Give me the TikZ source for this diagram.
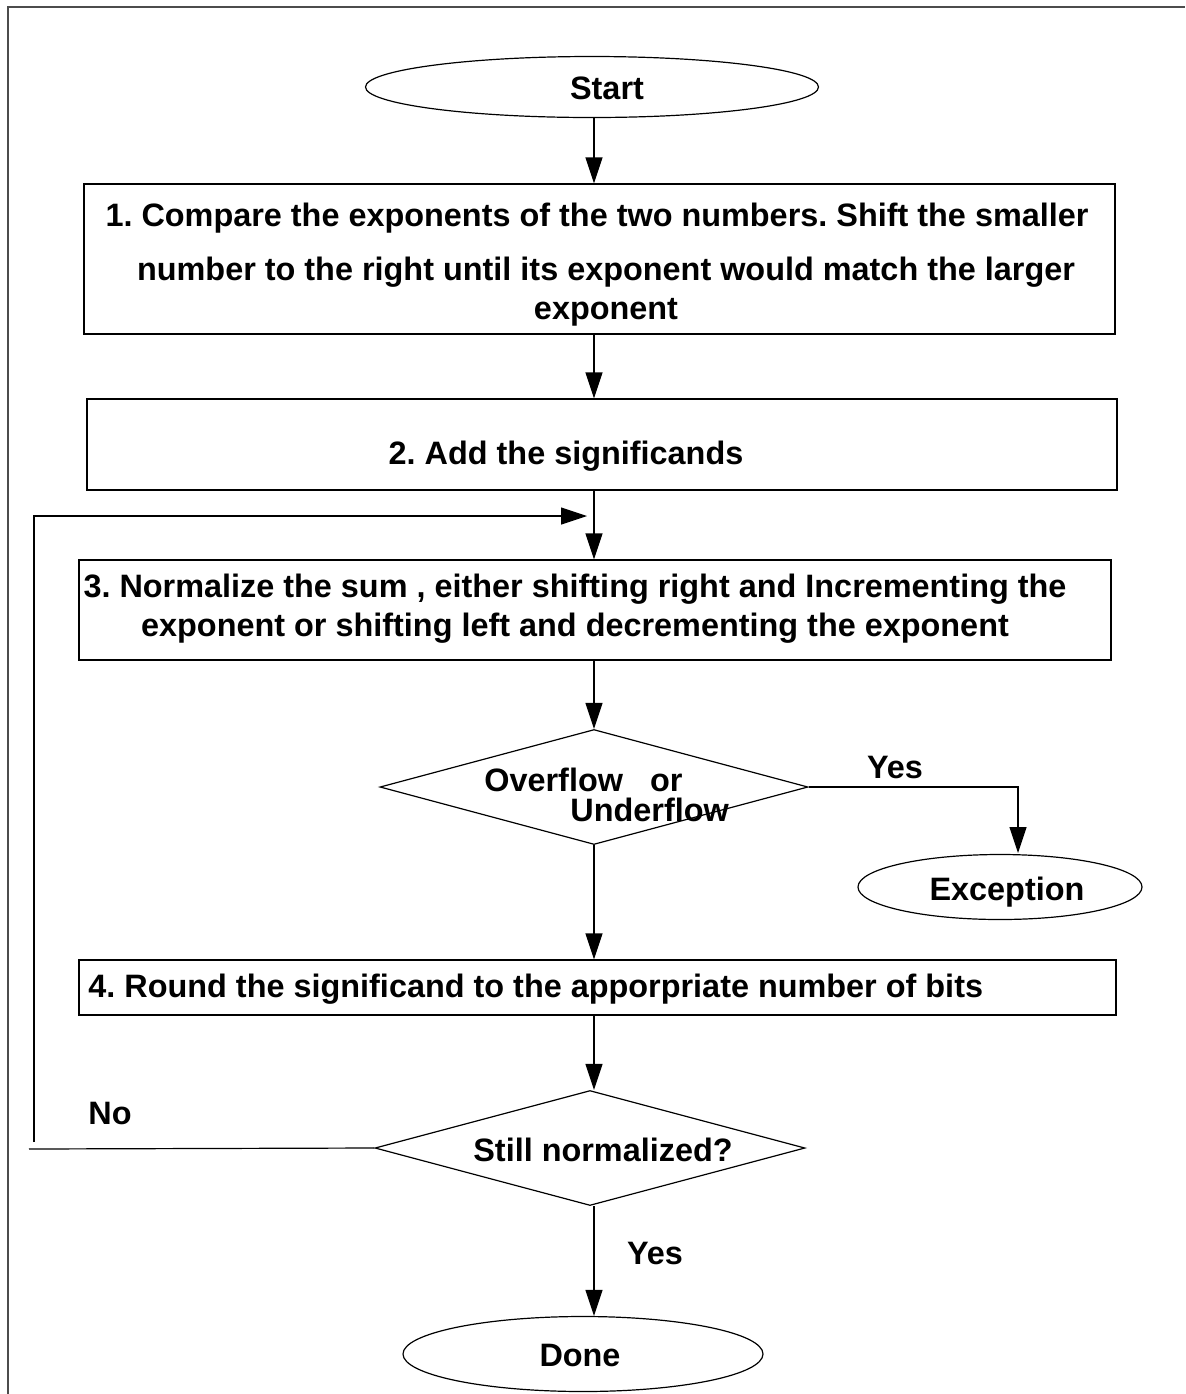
\documentclass[tikz,border=0pt]{standalone}
\usepackage{fontspec}
\setmainfont{Liberation Sans}
\usetikzlibrary{shapes.geometric,arrows.meta,calc}
\begin{document}
\frenchspacing
\begin{tikzpicture}[x=0.5pt,y=-0.5pt,
  every node/.style={font=\fontsize{16.2}{19.5}\selectfont\bfseries, inner sep=0pt},
  shp/.style={draw, line width=0.6pt},
  oval/.style={shp, ellipse},
  boxx/.style={shp, rectangle},
  dia/.style={shp, diamond, aspect=3.7},
  ln/.style={line width=0.6pt},
  arr/.style={ln, -{Triangle[length=13pt,width=8.5pt]}},
  lbl/.style={anchor=center}]
\useasboundingbox (0,0) rectangle (1185,1394);
\draw[line width=1.2pt, black!70] (8,1394) -- (8,7) -- (1185,7);
\coordinate (axis) at (594,0);

\node[oval, minimum width=226.5pt, minimum height=30.5pt] (st) at (592,87) {};
\node[lbl] (tst) at (607,88) {Start};

\node[boxx, minimum width=515.5pt, minimum height=75pt] (b1) at (599.5,259) {};
\node[lbl, align=center] (t1) at (597,265)
  {1. Compare the exponents of the two numbers. Shift the smaller\\[7.5pt]
   \ \ number to the right until its exponent would match the larger\\
   \ \ exponent};

\node[boxx, minimum width=515pt, minimum height=45.5pt] (b2) at (602,444.5) {};
\node[lbl] (t2) at (566,456) {2. Add the significands};

\node[boxx, minimum width=516pt, minimum height=50pt] (b3) at (595,610) {};
\node[lbl, align=center] (t3) at (575,609)
  {3. Normalize the sum , either shifting right and Incrementing the\\
   exponent or shifting left and decrementing the exponent};

\node[dia, minimum width=214pt, minimum height=57.5pt] (d1) at (594,787) {};
\node[lbl, anchor=west] (t4a) at (484,780) {Overflow\ \ \ or};
\node[lbl, anchor=west] (t4b) at (570,810) {Underflow};

\node[oval, minimum width=142pt, minimum height=32.5pt] (ex) at (1000,887) {};
\node[lbl] (tex) at (1007,892) {Exception};
\node[lbl] (yes1) at (895,768) {Yes};

\node[boxx, minimum width=518.5pt, minimum height=27.5pt] (b4) at (597.5,987.5) {};
\node[lbl, anchor=west] (t5) at (88,989)
  {4. Round the significand to the apporpriate number of bits};

\node[dia, minimum width=215pt, minimum height=57.5pt] (d2) at (590,1148) {};
\node[lbl] (t6) at (603,1150) {Still normalized?};
\node[lbl] (no) at (110,1113) {No};

\node[oval, minimum width=180pt, minimum height=37.5pt] (dn) at (583,1354) {};
\node[lbl] (tdn) at (580,1355) {Done};
\node[lbl] (yes2) at (655,1253) {Yes};

% main flow
\draw[arr] (st.south -| axis) -- (b1.north -| axis);
\draw[arr] (b1.south -| axis) -- (b2.north -| axis);
\draw[arr] (b2.south -| axis) -- (b3.north -| axis);
\draw[arr] (b3.south -| axis) -- (d1.north);
\draw[arr] (d1.south) -- (b4.north -| axis);
\draw[arr] (b4.south -| axis) -- (d2.north -| axis);
\draw[arr] (d2.south -| axis) -- (dn.north -| axis);
% overflow -> exception
\coordinate (exTop) at (1018,853);
\draw[arr] (d1.east) -| (exTop);
% loop back
\coordinate (noEnd) at (29,1149);
\coordinate (loopA) at (34,1142);
\coordinate (loopB) at (34,516);
\coordinate (loopTip) at (587,516);
\draw[ln] (d2.west) -- (noEnd);
\draw[arr] (loopA) -- (loopB) -- (loopTip);
\end{tikzpicture}
\end{document}
